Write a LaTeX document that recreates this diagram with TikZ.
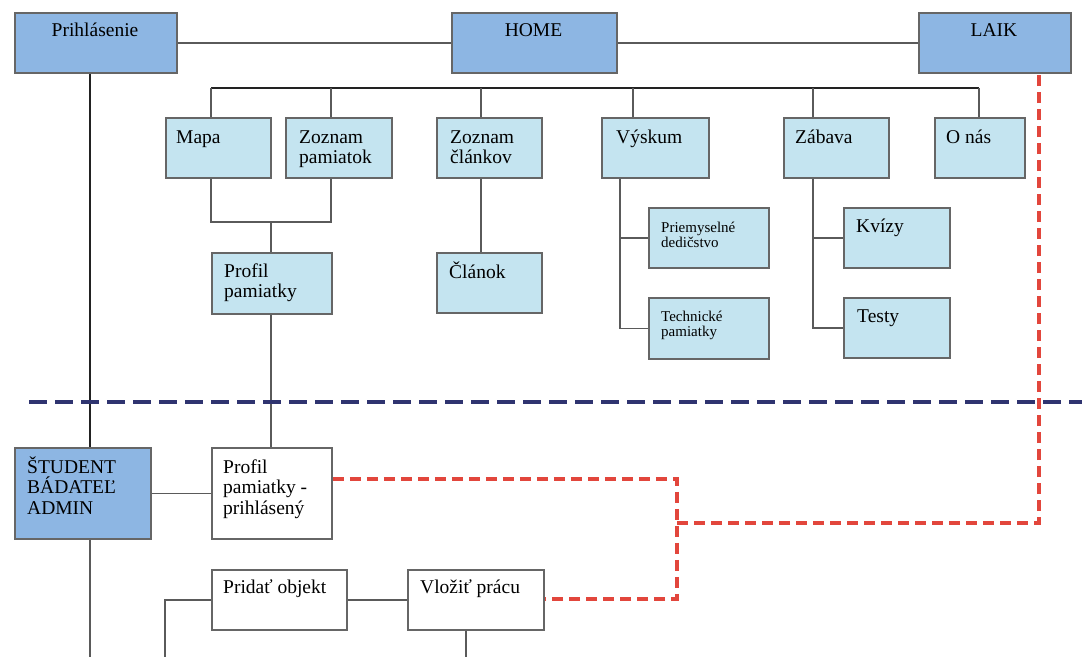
\documentclass[tikz,border=0pt]{standalone}
\usepackage{fontspec}
\setmainfont{Liberation Serif}
\definecolor{midblue}{HTML}{8DB6E3}
\definecolor{paleblue}{HTML}{C4E4F0}
\definecolor{boxline}{HTML}{666666}
\definecolor{conngray}{HTML}{5A5A5A}
\definecolor{darkconn}{HTML}{222222}
\definecolor{navydash}{HTML}{2F3470}
\definecolor{reddash}{HTML}{E2463C}
\newcommand\mainsz{\fontsize{19.5}{20.5}\selectfont}
\newcommand\minisz{\fontsize{15}{15.5}\selectfont}
% rectangle from its top-left to its bottom-right corner
\newcommand\boxat[6]{\node[#1, minimum width=#5-#3, minimum height=#6-#4] (#2) at (#3,#4) {};}
\tikzset{
  frame/.style={draw=boxline, line width=1.8pt, inner sep=0pt, anchor=north west, rectangle},
  topbox/.style={frame, fill=midblue},
  subbox/.style={frame, fill=paleblue},
  plainbox/.style={frame, fill=white},
  lbl/.style={anchor=base west, inner sep=0pt, font=\mainsz},
  minilbl/.style={anchor=base west, inner sep=0pt, font=\minisz},
  midlbl/.style={anchor=base, inner sep=0pt, font=\mainsz},
  conn/.style={draw=conngray, line width=1.8pt},
  trunk/.style={draw=darkconn, line width=2.3pt},
  divider/.style={draw=navydash, line width=3.2pt, dash pattern=on 18pt off 8pt},
  reflink/.style={draw=reddash, line width=3.2pt, dash pattern=on 11pt off 6pt},
}
\begin{document}
\begin{tikzpicture}[x=1pt, y=-1pt]
\useasboundingbox (0,0) rectangle (1082,657);
\fill[white] (0,0) rectangle (1082,657);

% ---- top level ----
\boxat{topbox}{prih}{14}{12}{176}{72}
\boxat{topbox}{home}{451}{12}{616}{72}
\boxat{topbox}{laik}{918}{12}{1070}{72}
\node[midlbl] (prih-t) at (95,36) {Prihlásenie};
\node[midlbl] (home-t) at (533.5,36) {HOME};
\node[midlbl] (laik-t) at (994,36) {LAIK};

% ---- public pages ----
\boxat{subbox}{mapa}{165}{117}{270}{177}
\boxat{subbox}{zpam}{285}{117}{391}{177}
\boxat{subbox}{zcla}{436}{117}{541}{177}
\boxat{subbox}{vysk}{601}{117}{708}{177}
\boxat{subbox}{zab}{783}{117}{888}{177}
\boxat{subbox}{onas}{934}{117}{1024}{177}
\node[lbl] (mapa-t) at (176,143) {Mapa};
\node[lbl] (zpam-t) at (299,143) {\parbox[t]{4cm}{Zoznam\\pamiatok}};
\node[lbl] (zcla-t) at (450,143) {\parbox[t]{4cm}{Zoznam\\článkov}};
\node[lbl] (vysk-t) at (616,143) {Výskum};
\node[lbl] (zab-t) at (795,143) {Zábava};
\node[lbl] (onas-t) at (946,143) {O nás};

\boxat{subbox}{ppam}{211}{252}{331}{313}
\boxat{subbox}{clan}{436}{252}{541}{312}
\node[lbl] (ppam-t) at (224,277) {\parbox[t]{4cm}{Profil\\pamiatky}};
\node[lbl] (clan-t) at (449,278) {Článok};

\boxat{subbox}{prie}{648}{207}{768}{267}
\boxat{subbox}{tech}{648}{297}{768}{358}
\node[minilbl] (prie-t) at (661,232) {\parbox[t]{4cm}{Priemyselné\\dedičstvo}};
\node[minilbl] (tech-t) at (661,321) {\parbox[t]{4cm}{Technické\\pamiatky}};

\boxat{subbox}{kviz}{843}{207}{949}{267}
\boxat{subbox}{test}{843}{297}{949}{357}
\node[lbl] (kviz-t) at (856,232) {Kvízy};
\node[lbl] (test-t) at (857,322) {Testy};

% ---- logged-in part ----
\boxat{topbox}{stud}{14}{447}{150}{538}
\boxat{plainbox}{ppl}{211}{447}{331}{538}
\boxat{plainbox}{prid}{211}{569}{346}{629}
\boxat{plainbox}{vloz}{407}{569}{543}{629}
\node[lbl] (stud-t) at (27,473) {\parbox[t]{4cm}{ŠTUDENT\\BÁDATEĽ\\ADMIN}};
\node[lbl] (ppl-t) at (223,473) {\parbox[t]{4cm}{Profil\\pamiatky -\\prihlásený}};
\node[lbl] (prid-t) at (223,593) {Pridať objekt};
\node[lbl] (vloz-t) at (420,593) {Vložiť prácu};

% ---- helper coordinates ----
\coordinate (busL) at (211,88);
\coordinate (busR) at (979,88);
\coordinate (dMapa) at (211,0);
\coordinate (dZpam) at (331,0);
\coordinate (dZcla) at (481,0);
\coordinate (dVysk) at (633,0);
\coordinate (dZab) at (813,0);
\coordinate (dOnas) at (979,0);
\coordinate (uBot) at (0,222);
\coordinate (uMid) at (271,222);
\coordinate (vyskX) at (620,0);
\coordinate (zabX) at (813,0);
\coordinate (leftX) at (90,0);
\coordinate (bottom) at (0,657);
\coordinate (forkX) at (165,0);
\coordinate (vlozX) at (466,0);
\coordinate (divL) at (29,402);
\coordinate (divR) at (1082,402);
\coordinate (redA) at (677,479);
\coordinate (redB) at (677,599);
\coordinate (redD) at (677,523);
\coordinate (redC) at (1039,523);

% ---- connectors ----
\draw[conn] (prih.east) -- (home.west);
\draw[conn] (home.east) -- (laik.west);
\draw[trunk] (busL) -- (busR);
\draw[conn] (busL -| dMapa) -- (mapa.north -| dMapa);
\draw[conn] (busL -| dZpam) -- (zpam.north -| dZpam);
\draw[conn] (busL -| dZcla) -- (zcla.north -| dZcla);
\draw[conn] (busL -| dVysk) -- (vysk.north -| dVysk);
\draw[conn] (busL -| dZab) -- (zab.north -| dZab);
\draw[conn] (busL -| dOnas) -- (onas.north -| dOnas);

\draw[conn] (mapa.south -| dMapa) -- (uBot -| dMapa) -- (uBot -| dZpam) -- (zpam.south -| dZpam);
\draw[conn] (uMid) -- (ppam.north -| uMid);
\draw[conn] (ppam.south -| uMid) -- (ppl.north -| uMid);
\draw[conn] (zcla.south -| dZcla) -- (clan.north -| dZcla);

\draw[conn] (vysk.south -| vyskX) -- (tech.west -| vyskX) -- (tech.west);
\draw[conn] (prie.west -| vyskX) -- (prie.west);
\draw[conn] (zab.south -| zabX) -- (test.west -| zabX) -- (test.west);
\draw[conn] (kviz.west -| zabX) -- (kviz.west);

\draw[trunk] (prih.south -| leftX) -- (stud.north -| leftX);
\draw[conn] (stud.south -| leftX) -- (bottom -| leftX);
\draw[conn] (stud.east) -- (ppl.west);
\draw[conn] (prid.east) -- (vloz.west);
\draw[conn] (prid.west) -- (prid.west -| forkX) -- (bottom -| forkX);
\draw[conn] (vloz.south -| vlozX) -- (bottom -| vlozX);

% ---- section divider ----
\draw[divider] (divL) -- (divR);

% ---- cross links ----
\draw[reflink] (ppl.east |- redA) -- (redA) -- (redB) -- (vloz.east |- redB);
\draw[reflink] (redD) -- (redC) -- (laik.south -| redC);
\end{tikzpicture}
\end{document}
